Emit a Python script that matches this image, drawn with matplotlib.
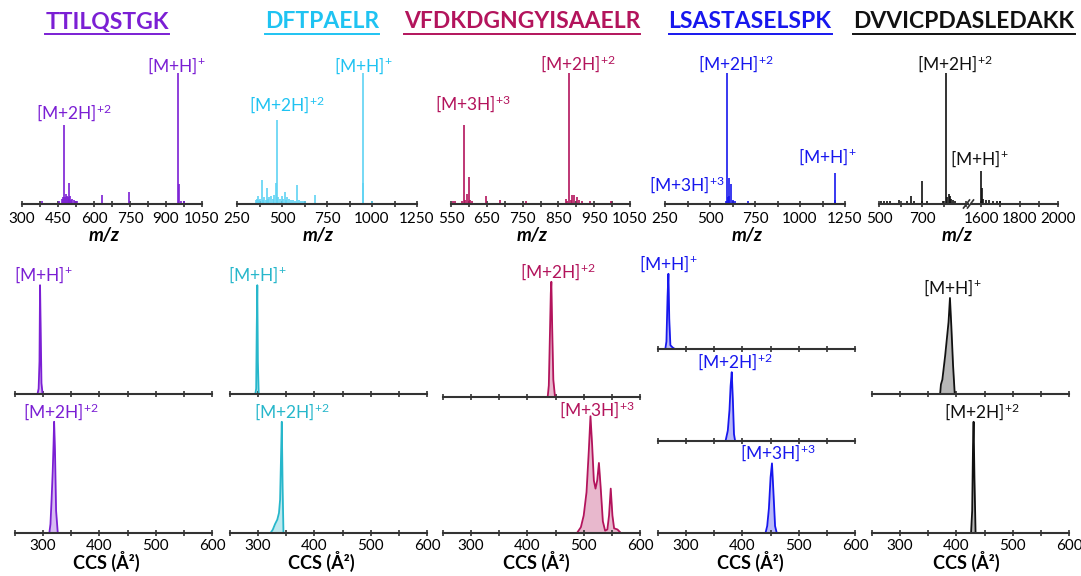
import matplotlib
matplotlib.use("Agg")
import matplotlib.pyplot as plt
from matplotlib.lines import Line2D

plt.rcParams['font.family'] = ['Lato', 'DejaVu Sans']
plt.rcParams['mathtext.fontset'] = 'custom'
plt.rcParams['mathtext.rm'] = 'Lato'
plt.rcParams['mathtext.it'] = 'Lato:italic'
plt.rcParams['mathtext.bf'] = 'Lato:bold'

# ---------------- data ----------------
peptides = ['TTILQSTGK', 'DFTPAELR', 'VFDKDGNGYISAAELR', 'LSASTASELSPK', 'DVVICPDASLEDAKK']
title_colors = ['#7B1FD4', '#1FC3F2', '#B3145C', '#1717EE', '#111111']
ms_colors = ['#7B1FD4', '#5FD3F3', '#B3145C', '#1717EE', '#111111']
ccs_colors = ['#7B1FD4', '#27B7CB', '#B3145C', '#1717EE', '#111111']

# mass spectra (m/z, relative intensity)
ms1_mz = [330, 385, 398, 420, 455, 466, 471, 476, 480, 484, 488, 491, 494, 497, 501, 505, 510, 516,
          522, 530, 540, 556, 575, 600, 633, 640, 690, 746, 800, 850, 951, 954, 962, 975, 988, 1010]
ms1_int = [0.01, 0.02, 0.01, 0.01, 0.02, 0.04, 0.05, 0.60, 0.05, 0.08, 0.06, 0.05, 0.16, 0.04, 0.06,
           0.03, 0.04, 0.03, 0.02, 0.02, 0.01, 0.01, 0.01, 0.01, 0.07, 0.01, 0.01, 0.09, 0.01, 0.01,
           1.0, 0.15, 0.02, 0.02, 0.01, 0.01]

ms2_mz = [300, 340, 355, 362, 365, 372, 380, 389, 395, 402, 410, 415, 422, 430, 440, 450, 458, 467,
          474, 480, 490, 500, 508, 515, 522, 530, 540, 550, 560, 572, 583, 595, 605, 615, 630, 650,
          685, 700, 740, 800, 860, 948, 952, 970, 1000]
ms2_int = [0.01, 0.01, 0.03, 0.04, 0.06, 0.03, 0.04, 0.18, 0.03, 0.05, 0.03, 0.12, 0.04, 0.05, 0.06,
           0.04, 0.07, 0.16, 0.645, 0.05, 0.04, 0.06, 0.04, 0.09, 0.03, 0.05, 0.04, 0.03, 0.03, 0.02,
           0.145, 0.03, 0.02, 0.02, 0.02, 0.01, 0.07, 0.01, 0.01, 0.01, 0.01, 1.0, 0.16, 0.01, 0.02]

ms3_mz = [556, 562, 575, 580, 586, 590, 594, 599, 604, 610, 620, 635, 647, 660, 687, 720, 760, 800,
          840, 865, 870, 875, 880, 884, 888, 894, 901, 908, 915, 925, 938, 960, 997, 1020]
ms3_int = [0.02, 0.02, 0.01, 0.02, 0.60, 0.03, 0.08, 0.21, 0.03, 0.02, 0.01, 0.01, 0.06, 0.01, 0.03,
           0.01, 0.02, 0.01, 0.01, 0.01, 0.04, 0.02, 1.0, 0.03, 0.07, 0.07, 0.05, 0.03, 0.02, 0.01,
           0.02, 0.01, 0.02, 0.01]

ms4_mz = [300, 380, 450, 520, 560, 590, 596, 600, 603, 607, 615, 625, 640, 660, 711, 760, 815, 900,
          1000, 1100, 1193, 1197, 1210]
ms4_int = [0.005, 0.01, 0.005, 0.005, 0.01, 0.02, 1.0, 0.05, 0.2, 0.06, 0.15, 0.03, 0.02, 0.01, 0.02,
           0.005, 0.01, 0.005, 0.005, 0.005, 0.24, 0.03, 0.01]

ms5a_mz = [510, 525, 535, 550, 565, 594, 610, 630, 647, 660, 680, 700, 720, 740, 760, 780, 795, 809,
           816, 824, 826, 832, 840, 850, 865, 880, 900]
ms5a_int = [0.02, 0.02, 0.02, 0.02, 0.01, 0.03, 0.01, 0.02, 0.06, 0.02, 0.01, 0.175, 0.02, 0.01, 0.01,
            0.01, 0.02, 1.0, 0.05, 0.08, 0.06, 0.04, 0.03, 0.02, 0.01, 0.01, 0.01]
ms5b_mz = [1560, 1580, 1600, 1604, 1612, 1625, 1640, 1660, 1680, 1700, 1730, 1760, 1800, 1850, 1900,
           1950, 1990]
ms5b_int = [0.01, 0.01, 0.25, 0.12, 0.04, 0.03, 0.03, 0.02, 0.02, 0.02, 0.01, 0.01, 0.01, 0.01, 0.01,
            0.01, 0.01]

ms_xlims = [(300, 1050), (250, 1250), (550, 1050), (250, 1250)]
ms_major = [[300, 450, 600, 750, 900, 1050], [250, 500, 750, 1000, 1250],
            [550, 650, 750, 850, 950, 1050], [250, 500, 750, 1000, 1250]]
ms_minor = [[375, 525, 675, 825, 975], [375, 625, 875, 1125],
            [600, 700, 800, 900, 1000], [375, 625, 875, 1125]]

# ion labels on spectra: (text, m/z, label height)
ms_labels = [
    [(r'[M+2H]$^{+2}$', 517, 0.62), (r'[M+H]$^{+}$', 942, 0.98)],
    [(r'[M+2H]$^{+2}$', 528, 0.68), (r'[M+H]$^{+}$', 952, 0.98)],
    [(r'[M+3H]$^{+3}$', 612, 0.69), (r'[M+2H]$^{+2}$', 905, 0.99)],
    [(r'[M+3H]$^{+3}$', 369, 0.07), (r'[M+2H]$^{+2}$', 643, 0.99), (r'[M+H]$^{+}$', 1150, 0.28)],
]

# CCS distributions (CCS in A^2, relative intensity)
ccs_traces = [
    [  # TTILQSTGK
        ([250, 290, 292, 293.5, 294.5, 295.5, 297, 299, 600], [0, 0, 0.05, 0.3, 1.0, 0.65, 0.1, 0, 0]),
        ([250, 311, 313, 315, 317, 318.5, 319.5, 321, 323, 326, 600],
         [0, 0, 0.08, 0.3, 0.55, 0.8, 1.0, 0.75, 0.2, 0, 0]),
    ],
    [  # DFTPAELR
        ([250, 295, 296.5, 297.5, 298.5, 299.5, 301, 600], [0, 0, 0.05, 0.6, 1.0, 0.3, 0, 0]),
        ([250, 322, 326, 330, 334, 337, 339, 340.5, 342, 343.5, 345, 600],
         [0, 0, 0.03, 0.08, 0.12, 0.18, 0.3, 0.65, 1.0, 0.4, 0, 0]),
    ],
    [  # VFDKDGNGYISAAELR
        ([250, 436, 438, 440, 441.5, 442.5, 444, 446, 449, 600],
         [0, 0, 0.1, 0.55, 0.9, 1.0, 0.6, 0.15, 0, 0]),
        ([250, 488, 495, 500, 505, 509, 512, 515, 518, 521, 524, 527, 530, 534, 538, 542, 545, 548,
          551, 554, 560, 566, 600],
         [0, 0, 0.05, 0.15, 0.35, 0.7, 1.0, 0.75, 0.45, 0.38, 0.45, 0.6, 0.4, 0.1, 0.02, 0.03, 0.15,
          0.38, 0.15, 0.04, 0.03, 0, 0]),
    ],
    [  # LSASTASELSPK
        ([250, 263, 265, 267, 268.5, 270, 272, 276, 280, 600], [0, 0, 0.1, 0.7, 1.0, 0.4, 0.05, 0.02, 0, 0]),
        ([250, 370, 374, 377, 379, 381, 383, 385, 387, 600], [0, 0, 0.15, 0.45, 0.8, 1.0, 0.6, 0.1, 0, 0]),
        ([250, 441, 444, 447, 450, 452.5, 455, 458, 461, 600], [0, 0, 0.1, 0.35, 0.8, 1.0, 0.6, 0.1, 0, 0]),
    ],
    [  # DVVICPDASLEDAKK
        ([250, 371, 372.5, 375, 380, 386, 388.5, 391, 394, 397, 600],
         [0, 0, 0.1, 0.15, 0.4, 0.75, 1.0, 0.7, 0.3, 0, 0]),
        ([250, 426, 428, 429.5, 430.5, 432, 434, 600], [0, 0, 0.2, 0.8, 1.0, 0.5, 0, 0]),
    ],
]
ccs_labels = [
    [(r'[M+H]$^{+}$', 300.6), (r'[M+2H]$^{+2}$', 332)],
    [(r'[M+H]$^{+}$', 298), (r'[M+2H]$^{+2}$', 360)],
    [(r'[M+2H]$^{+2}$', 454), (r'[M+3H]$^{+3}$', 523)],
    [(r'[M+H]$^{+}$', 269), (r'[M+2H]$^{+2}$', 387), (r'[M+3H]$^{+3}$', 463)],
    [(r'[M+H]$^{+}$', 393), (r'[M+2H]$^{+2}$', 445)],
]

# ---------------- layout ----------------
W, H = 1081, 576
fig = plt.figure(figsize=(W / 100, H / 100), dpi=100)


def add_ax(x0, x1, top, base):
    return fig.add_axes([x0 / W, 1 - base / H, (x1 - x0) / W, (base - top) / H])


def style_ax(ax, pad=3.5):
    for s in ['left', 'right', 'top']:
        ax.spines[s].set_visible(False)
    ax.spines['bottom'].set_linewidth(1.5)
    ax.spines['bottom'].set_color('#333333')
    ax.set_yticks([])
    ax.patch.set_alpha(0)
    ax.tick_params(axis='x', which='both', direction='inout', color='#333333', width=1.2,
                   labelsize=11, pad=pad)
    ax.tick_params(axis='x', which='major', length=5)
    ax.tick_params(axis='x', which='minor', length=4)


ms_boxes = [(22, 202), (237, 417), (451, 630), (665, 845)]
ms_top, ms_base = 60, 204
ms_spectra = [(ms1_mz, ms1_int), (ms2_mz, ms2_int), (ms3_mz, ms3_int), (ms4_mz, ms4_int)]

for i, (x0, x1) in enumerate(ms_boxes):
    ax = add_ax(x0, x1, ms_top, ms_base)
    style_ax(ax)
    mz, inten = ms_spectra[i]
    ax.vlines(mz, 0, inten, colors=ms_colors[i], lw=1.2)
    ax.axhline(0, color=ms_colors[i], lw=1.3)
    ax.set_xlim(*ms_xlims[i])
    ax.set_ylim(0, 1.1)
    ax.set_xticks(ms_major[i])
    ax.set_xticks(ms_minor[i], minor=True)
    for txt, x, y in ms_labels[i]:
        ax.text(x, y, txt, color=title_colors[i], fontsize=12.5, ha='center', va='bottom', clip_on=False)

# broken axis panel
ax5a = add_ax(879, 968, ms_top, ms_base)
ax5b = add_ax(971, 1058, ms_top, ms_base)
for ax, mz, inten, xl, maj, mnr in [(ax5a, ms5a_mz, ms5a_int, (500, 911), [500, 700], [600, 800, 900]),
                                    (ax5b, ms5b_mz, ms5b_int, (1547, 2000), [1600, 1800, 2000], [1700, 1900])]:
    style_ax(ax)
    ax.vlines(mz, 0, inten, colors=ms_colors[4], lw=1.2)
    ax.axhline(0, color=ms_colors[4], lw=1.3)
    ax.set_xlim(*xl)
    ax.set_ylim(0, 1.1)
    ax.set_xticks(maj)
    ax.set_xticks(mnr, minor=True)
ax5a.text(851, 0.99, r'[M+2H]$^{+2}$', color=ms_colors[4], fontsize=12.5, ha='center', va='bottom',
          clip_on=False)
ax5b.text(1593, 0.27, r'[M+H]$^{+}$', color=ms_colors[4], fontsize=12.5, ha='center', va='bottom',
          clip_on=False)
for xc in [966.5, 970.5]:
    fig.add_artist(Line2D([(xc - 3) / W, (xc + 3) / W], [1 - (ms_base + 4) / H, 1 - (ms_base - 4) / H],
                          color='#333333', lw=1.2))

# m/z labels
for xc in [104, 318, 532, 747, 957]:
    fig.text(xc / W, 1 - 236 / H, 'm/z', fontsize=13.5, fontweight='bold', fontstyle='italic',
             ha='center', va='center')

# CCS panels
ccs_boxes = [
    [(15, 212, 258, 394), (15, 212, 394, 533)],
    [(230, 427, 258, 394), (230, 427, 394, 533)],
    [(443, 640, 253, 397), (443, 640, 387, 533)],
    [(658, 855, 255, 349), (658, 855, 355, 441), (658, 855, 446, 533)],
    [(872, 1069, 274, 394), (872, 1069, 394, 533)],
]
for i, boxes in enumerate(ccs_boxes):
    c = ccs_colors[i]
    for j, box in enumerate(boxes):
        ax = add_ax(*box)
        style_ax(ax, pad=1.5)
        x, y = ccs_traces[i][j]
        ax.fill_between(x, 0, y, color=c, alpha=0.3, lw=0)
        ax.plot(x, y, color=c, lw=1.3)
        ax.set_xlim(250, 600)
        ax.set_ylim(0, 1.25)
        ax.set_xticks([300, 400, 500, 600])
        ax.set_xticks([250, 350, 450, 550], minor=True)
        if j < len(boxes) - 1:
            ax.tick_params(axis='x', labelbottom=False)
        txt, lx = ccs_labels[i][j]
        dy = -3 if (i == 2 and j == 1) else 0
        ax.annotate(txt, (lx, max(y)), xytext=(0, dy), textcoords='offset points', color=c,
                    fontsize=12.5, ha='center', va='bottom', annotation_clip=False)

for xc in [106, 321, 536, 750, 966]:
    fig.text(xc / W, 1 - 561 / H, 'CCS (Å²)', fontsize=13, fontweight='bold', ha='center', va='center')

# titles with underline
title_x = [107, 322, 522, 750, 964]
titles = []
for i, name in enumerate(peptides):
    t = fig.text(title_x[i] / W, 1 - 22 / H, name, fontsize=16.5, fontweight='bold',
                 color=title_colors[i], ha='center', va='center')
    titles.append(t)
fig.canvas.draw()
renderer = fig.canvas.get_renderer()
for i, t in enumerate(titles):
    bb = t.get_window_extent(renderer)
    yl = bb.y0 - 1
    fig.add_artist(Line2D([bb.x0 / W, bb.x1 / W], [yl / H, yl / H], color=title_colors[i], lw=1.4))

fig.savefig('out.png', dpi=100)
